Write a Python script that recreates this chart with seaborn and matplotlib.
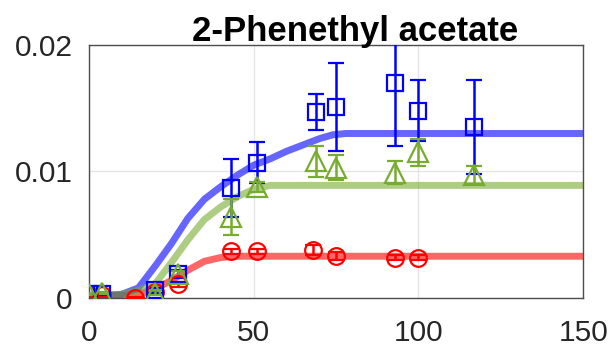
import numpy as np
import pandas as pd
import matplotlib
matplotlib.use("Agg")
import matplotlib.pyplot as plt
import seaborn as sns

# Measured concentrations (mean and standard deviation) over time
t_blue = [0, 4, 20, 27, 43, 51, 69, 75, 93, 100, 117]
y_blue = [0.0003, 0.0003, 0.0006, 0.0019, 0.0087, 0.0107, 0.0147, 0.0151, 0.0170, 0.0148, 0.0135]
e_blue = [0.0001, 0.0001, 0.0002, 0.0003, 0.0023, 0.0016, 0.0014, 0.0035, 0.0050, 0.0024, 0.0037]

t_green = [0, 4, 20, 27, 43, 51, 69, 75, 93, 100, 117]
y_green = [0.0003, 0.0004, 0.0004, 0.0019, 0.0064, 0.0088, 0.0108, 0.0103, 0.0099, 0.0115, 0.0097]
e_green = [0.0001, 0.0001, 0.0002, 0.0002, 0.0014, 0.0004, 0.0012, 0.0010, 0.0009, 0.0011, 0.0007]

t_red = [0, 4, 14, 20, 27, 43, 51, 68, 75, 93, 100]
y_red = [0.0002, 0.0002, 0.0000, 0.0005, 0.0011, 0.0037, 0.0037, 0.0038, 0.0033, 0.0032, 0.0032]
e_red = [0.0001, 0.0001, 0.0001, 0.0001, 0.0002, 0.0002, 0.0002, 0.0004, 0.0003, 0.0002, 0.0002]

# Fitted model curves
fit_t_blue = [0, 5, 10, 15, 20, 25, 30, 35, 40, 45, 50, 55, 60, 65, 70, 74, 78, 150]
fit_y_blue = [0.0002, 0.0002, 0.0003, 0.0008, 0.0025, 0.0043, 0.0063, 0.0078, 0.0088, 0.0097,
              0.0105, 0.0110, 0.0116, 0.0121, 0.0126, 0.0129, 0.0130, 0.0130]
fit_t_green = [0, 5, 10, 15, 20, 25, 30, 35, 40, 45, 50, 55, 150]
fit_y_green = [0.0002, 0.0002, 0.0003, 0.0006, 0.0011, 0.0028, 0.0046, 0.0062, 0.0072, 0.0080,
               0.0086, 0.0089, 0.0089]
fit_t_red = [0, 5, 10, 15, 20, 25, 30, 35, 40, 45, 150]
fit_y_red = [0.0002, 0.0002, 0.0002, 0.0003, 0.0007, 0.0014, 0.0022, 0.0029, 0.0032, 0.0033, 0.0033]

x_ticks = [0, 50, 100, 150]
y_ticks = [0, 0.01, 0.02]
y_tick_labels = ["0", "0.01", "0.02"]
title = "2-Phenethyl acetate"

sns.set_theme(style="white")
plt.rcParams["font.family"] = ["Liberation Sans", "DejaVu Sans"]

fig = plt.figure(figsize=(6.1, 3.51), dpi=100)
ax = fig.add_axes([0.146, 0.151, 0.81, 0.721])

# (curve t, curve y, data t, data y, data sd, colour, marker, marker size)
series = [
    (fit_t_red, fit_y_red, t_red, y_red, e_red, "#ff0000", "o", 12),
    (fit_t_blue, fit_y_blue, t_blue, y_blue, e_blue, "#0000ff", "s", 11),
    (fit_t_green, fit_y_green, t_green, y_green, e_green, "#77ac30", "^", 15),
]

for ft, fy, t, y, e, color, marker, size in series:
    sns.lineplot(x=ft, y=fy, ax=ax, color=color, lw=5.0, alpha=0.6,
                 estimator=None, sort=False, zorder=2)

for ft, fy, t, y, e, color, marker, size in series:
    ax.errorbar(t, y, yerr=e, fmt=marker, mfc="none", mec=color, ecolor=color,
                ms=size, mew=1.6, elinewidth=1.8, capsize=6, capthick=1.6, zorder=3)

ax.set_xlim(0, 150)
ax.set_ylim(0, 0.02)
ax.set_xticks(x_ticks)
ax.set_yticks(y_ticks)
ax.set_yticklabels(y_tick_labels)
ax.tick_params(axis="both", labelsize=21.5, colors="#4d4d4d", labelcolor="#262626",
               direction="in", length=3, width=0.8)
ax.tick_params(axis="x", pad=15)
ax.tick_params(axis="y", pad=12)
ax.grid(True, color="#e3e3e3", lw=0.9)
ax.set_axisbelow(True)
for side in ["left", "right", "top", "bottom"]:
    ax.spines[side].set_visible(True)
    ax.spines[side].set_color("#4d4d4d")
    ax.spines[side].set_linewidth(1.0)
ax.set_xlabel("")
ax.set_ylabel("")
ax.set_title(title, fontsize=25, fontweight="bold", color="black", x=0.538, pad=3)

fig.savefig("out.png", dpi=100, facecolor="white")
